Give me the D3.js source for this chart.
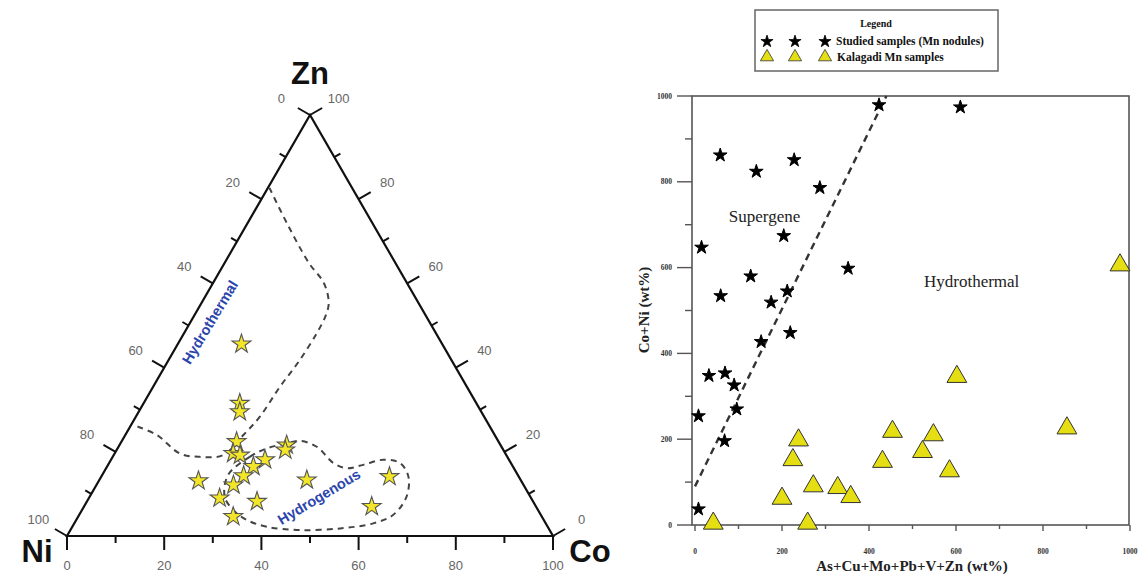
<!DOCTYPE html>
<html><head><meta charset="utf-8">
<script src="https://cdn.jsdelivr.net/npm/d3@7"></script>
<style>body{margin:0;background:#fff}svg{display:block}</style>
</head><body>
<svg id="c" width="1139" height="576"></svg>
<script>
// ---------- Ternary data (Co %, Zn %; Ni = 100 - Co - Zn) ----------
const ternCo = [13.1,19.8,20.8,23.7,24.4,26.0,34.4,34.7,31.7,30.1,29.2,20.5,28.2,42.7,59.3,26.9,35.0,59.2,31.9];
const ternZn = [45.6,31.5,29.5,22.4,19.6,19.2,21.6,20.4,18.1,16.5,14.3,13.1,12.1,13.3,14.1,9.0,8.2,7.0,4.6];
const hydrothermalCo = [1.5,6.5,13.4,17.9,22.5,24.3,25.5,26.1,27.0,27.3,27.1,26.2,22.8,17.4,8.1,0.3];
const hydrothermalZn = [26.0,24.0,19.6,18.8,19.2,24.0,28.3,35.5,41.8,48.1,52.0,55.3,60.1,64.8,74.3,82.7];
const hydrogenousCo = [25.9,28.2,30.7,34.2,36.6,40.8,46.2,49.5,52.5,56.0,59.9,63.2,65.2,64.6,61.5,55.3,47.2,40.0,35.1,31.1,27.8];
const hydrogenousZn = [14.5,18.8,20.8,22.0,22.6,21.2,17.3,16.1,16.9,18.1,17.3,14.1,9.3,5.0,3.0,1.8,1.4,2.2,3.8,6.2,9.3];
const ternTicks = [0,10,20,30,40,50,60,70,80,90,100];
const ternTickLabels = [0,20,40,60,80,100];

// ---------- Scatter data ----------
const studiedX = [423,610,58,228,141,287,204,15,352,128,59,212,175,219,152,32,69,90,96,8,68,8];
const studiedY = [979,974,862,851,824,786,674,647,598,580,534,545,519,448,427,348,354,326,270,254,196,37];
const kalagadiX = [977,602,855,454,548,238,523,225,431,585,272,328,358,200,42,259];
const kalagadiY = [608,348,228,220,212,200,173,154,150,128,93,89,68,64,6,6];
const divideX = [0,440];
const divideY = [90,1000];
const scatterTicks = [0,100,200,300,400,500,600,700,800,900,1000];
const scatterTickLabels = [0,200,400,600,800,1000];

const svg = d3.select("#c");
function applyAttrs(sel,o){Object.entries(o).forEach(([k,v])=>sel.attr(k,v));return sel;}

// ================= TERNARY =================
const bx = d3.scaleLinear().domain([0,100]).range([67,553]);
const hy = d3.scaleLinear().domain([0,100]).range([536,115]);
const tp = (co,zn) => [bx(co + zn/2), hy(zn)];

const T = svg.append("g");
const Ni = tp(0,0), Co = tp(100,0), Zn = tp(0,100);
T.append("path").attr("d", d3.line()([Ni,Co,Zn,Ni]) + "Z")
 .attr("fill","none").attr("stroke","#111").attr("stroke-width",2.2).attr("stroke-linejoin","miter");

const c30 = Math.cos(Math.PI/6), s30 = 0.5;
ternTicks.forEach(v => {
  const major = v % 20 === 0;
  const L = major ? 14 : 7;
  const b = tp(v,0);
  T.append("line").attr("x1",b[0]).attr("y1",b[1]).attr("x2",b[0]).attr("y2",b[1]+L)
   .attr("stroke","#111").attr("stroke-width",2);
  const l = tp(0,100-v);
  T.append("line").attr("x1",l[0]).attr("y1",l[1]).attr("x2",l[0]-c30*L).attr("y2",l[1]-s30*L)
   .attr("stroke","#111").attr("stroke-width",2);
  const r = tp(100-v,v);
  T.append("line").attr("x1",r[0]).attr("y1",r[1]).attr("x2",r[0]+c30*L).attr("y2",r[1]-s30*L)
   .attr("stroke","#111").attr("stroke-width",2);
});
const tlab = {fill:"#666","font-size":"13px","font-family":"Liberation Sans, Arial, sans-serif"};
ternTickLabels.forEach(v => {
  const b = tp(v,0);
  applyAttrs(T.append("text"),tlab).attr("x",b[0]).attr("y",b[1]+34).attr("text-anchor","middle").text(v);
  const l = tp(0,100-v);
  applyAttrs(T.append("text"),tlab).attr("x",l[0]-c30*33).attr("y",l[1]-s30*33+4).attr("text-anchor","middle").text(v);
  const r = tp(100-v,v);
  applyAttrs(T.append("text"),tlab).attr("x",r[0]+c30*33).attr("y",r[1]-s30*33+4).attr("text-anchor","middle").text(v);
});
const big = {"font-size":"31px","font-weight":"bold","font-family":"Liberation Sans, Arial, sans-serif",fill:"#111","text-anchor":"middle"};
applyAttrs(T.append("text"),big).attr("x",Zn[0]).attr("y",Zn[1]-31).text("Zn");
applyAttrs(T.append("text"),big).attr("x",Ni[0]-30).attr("y",Ni[1]+26).text("Ni");
applyAttrs(T.append("text"),big).attr("x",Co[0]+37).attr("y",Co[1]+26).text("Co");

// regions
const hyd = hydrothermalCo.map((c,i)=>tp(c,hydrothermalZn[i]));
T.append("path").attr("d", d3.line().curve(d3.curveCatmullRom)(hyd))
 .attr("fill","none").attr("stroke","#444").attr("stroke-width",2).attr("stroke-dasharray","6,5");
const hgn = hydrogenousCo.map((c,i)=>tp(c,hydrogenousZn[i]));
T.append("path").attr("d", d3.line().curve(d3.curveCatmullRomClosed)(hgn))
 .attr("fill","none").attr("stroke","#444").attr("stroke-width",2).attr("stroke-dasharray","6,5");

// stars
const starY = d3.symbol(d3.symbolStar, 110);
ternCo.forEach((c,i) => {
  const p = tp(c, ternZn[i]);
  T.append("path").attr("d", starY()).attr("transform",`translate(${p[0]},${p[1]})`)
   .attr("fill","#f3e629").attr("stroke","#555").attr("stroke-width",1.1);
});

// region labels
const lblBlue = {fill:"#2b45ad","font-size":"14.5px","font-weight":"bold","font-family":"Liberation Sans, Arial, sans-serif","text-anchor":"middle"};
const hl = tp(4.0,50.8);
applyAttrs(T.append("text"),lblBlue).attr("transform",`translate(${hl[0]},${hl[1]}) rotate(-59)`).attr("dy","0.35em").text("Hydrothermal");
const gl = tp(47.2,9.3);
applyAttrs(T.append("text"),lblBlue).attr("transform",`translate(${gl[0]},${gl[1]}) rotate(-31)`).attr("dy","0.35em").text("Hydrogenous");

// ================= SCATTER =================
const x = d3.scaleLinear().domain([0,1000]).range([695,1130]);
const y = d3.scaleLinear().domain([0,1000]).range([525,96]);
const S = svg.append("g");
const fL = x(0)-3, fR = x(1000)-1, fT = y(1000), fB = y(0);
S.append("rect").attr("x",fL).attr("y",fT).attr("width",fR-fL).attr("height",fB-fT)
 .attr("fill","none").attr("stroke","#555").attr("stroke-width",1.6);

scatterTicks.forEach(v => {
  const major = v % 200 === 0;
  const L = major ? 15 : 7;
  S.append("line").attr("x1",fL).attr("x2",fL-L).attr("y1",y(v)).attr("y2",y(v)).attr("stroke","#555").attr("stroke-width",1.4);
  S.append("line").attr("x1",x(v)).attr("x2",x(v)).attr("y1",fB).attr("y2",fB+(major?6:4)).attr("stroke","#555").attr("stroke-width",1.4);
});
const slab = {fill:"#333","font-size":"7.5px","font-weight":"bold","font-family":"Liberation Serif, Times New Roman, serif"};
scatterTickLabels.forEach(v => {
  applyAttrs(S.append("text"),slab).attr("x",fL-20).attr("y",y(v)+2.5).attr("text-anchor","end").text(v);
  applyAttrs(S.append("text"),slab).attr("x",x(v)).attr("y",fB+29).attr("text-anchor","middle").text(v);
});
const axt = {fill:"#222","font-size":"15px","font-weight":"bold","font-family":"Liberation Serif, Times New Roman, serif","text-anchor":"middle"};
applyAttrs(S.append("text"),axt).attr("x",912).attr("y",571).text("As+Cu+Mo+Pb+V+Zn (wt%)");
applyAttrs(S.append("text"),axt).attr("transform",`translate(649,310) rotate(-90)`).text("Co+Ni (wt%)");

// dividing line
S.append("path").attr("d", d3.line()(divideX.map((d,i)=>[x(d),y(divideY[i])])))
 .attr("fill","none").attr("stroke","#333").attr("stroke-width",2.4).attr("stroke-dasharray","7,5");

// region labels
const rl = {fill:"#222","font-size":"17px","font-family":"Liberation Serif, Times New Roman, serif","text-anchor":"middle"};
applyAttrs(S.append("text"),rl).attr("x",x(160)).attr("y",y(718)+5).text("Supergene");
applyAttrs(S.append("text"),rl).attr("x",x(636)).attr("y",y(566)+5).text("Hydrothermal");

// points
const starB = d3.symbol(d3.symbolStar, 58);
studiedX.forEach((v,i)=>{
  S.append("path").attr("d",starB()).attr("transform",`translate(${x(v)},${y(studiedY[i])})`)
   .attr("fill","#000").attr("stroke","#000").attr("stroke-width",1).attr("stroke-linejoin","round");
});
const tri = d3.symbol(d3.symbolTriangle, 170);
kalagadiX.forEach((v,i)=>{
  S.append("path").attr("d",tri()).attr("transform",`translate(${x(v)},${y(kalagadiY[i])+1})`)
   .attr("fill","#e4de12").attr("stroke","#333").attr("stroke-width",1);
});

// legend
const Lg = svg.append("g");
Lg.append("rect").attr("x",755).attr("y",10).attr("width",243).attr("height",61)
 .attr("fill","#fff").attr("stroke","#666").attr("stroke-width",1.5);
const lt = {fill:"#111","font-weight":"bold","font-family":"Liberation Serif, Times New Roman, serif"};
applyAttrs(Lg.append("text"),lt).attr("x",876).attr("y",27).attr("font-size","10px").attr("text-anchor","middle").text("Legend");
const legX = [767,795,825];
const starL = d3.symbol(d3.symbolStar, 46);
const triL = d3.symbol(d3.symbolTriangle, 75);
legX.forEach(lx=>{
  Lg.append("path").attr("d",starL()).attr("transform",`translate(${lx},41.5)`).attr("fill","#000").attr("stroke","#000").attr("stroke-width",0.8).attr("stroke-linejoin","round");
  Lg.append("path").attr("d",triL()).attr("transform",`translate(${lx},57)`).attr("fill","#e4de12").attr("stroke","#333").attr("stroke-width",0.8);
});
applyAttrs(Lg.append("text"),lt).attr("x",836).attr("y",45).attr("font-size","11.5px").text("Studied samples (Mn nodules)");
applyAttrs(Lg.append("text"),lt).attr("x",837).attr("y",60.5).attr("font-size","11.5px").text("Kalagadi Mn samples");
</script>
</body></html>
